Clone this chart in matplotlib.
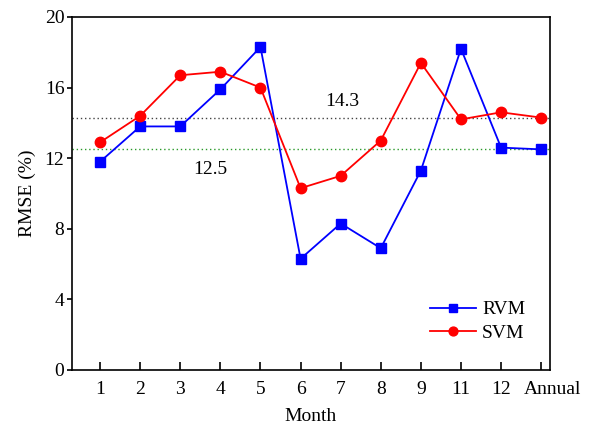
import matplotlib
matplotlib.use("Agg")
import matplotlib.pyplot as plt
import matplotlib.transforms as mtransforms
import numpy as np

plt.rcParams["font.family"] = ["Liberation Serif", "DejaVu Serif"]
plt.rcParams["mathtext.fontset"] = "stix"

months = ["1", "2", "3", "4", "5", "6", "7", "8", "9", "11", "12", "Annual"]
rvm = [11.8, 13.8, 13.8, 15.9, 18.3, 6.3, 8.3, 6.9, 11.3, 18.2, 12.6, 12.5]
svm = [12.9, 14.4, 16.7, 16.9, 16.0, 10.3, 11.0, 13.0, 17.4, 14.2, 14.6, 14.3]
svm_annual = 14.3
rvm_annual = 12.5

x = np.arange(len(months))

fig = plt.figure(figsize=(5.93, 4.33), dpi=100)
ax = fig.add_axes([72 / 593, 1 - 370 / 433, 478 / 593, 353 / 433])

ax.axhline(svm_annual, color="#444444", ls=(0, (1.0, 2.0)), lw=1.0, zorder=1)
ax.axhline(rvm_annual, color="#2a9a2a", ls=(0, (1.0, 2.0)), lw=1.0, zorder=1)

ax.plot(x, rvm, color="#0000ff", marker="s", ms=6.5, lw=1.3, label="RVM", zorder=3)
ax.plot(x, svm, color="#ff0000", marker="o", ms=7.5, lw=1.3, label="SVM", zorder=3)

ax.text(6.05, 15.2, f"{svm_annual}", fontsize=14, ha="center", va="center")
ax.text(2.75, 11.35, f"{rvm_annual}", fontsize=14, ha="center", va="center")

ax.set_xlim(-0.7, 11.22)
ax.set_ylim(0, 20)
ax.set_xticks(x)
ax.set_xticklabels(months)
ax.set_yticks([0, 4, 8, 12, 16, 20])
ax.tick_params(axis="x", direction="in", length=6, width=1.2, labelsize=14, pad=8)
ax.tick_params(axis="y", direction="out", length=3.5, width=1.2, labelsize=14, pad=2)
for s in ax.spines.values():
    s.set_linewidth(1.2)

# "Annual" sits a bit right of its tick in the original
lbl = ax.get_xticklabels()[-1]
lbl.set_transform(lbl.get_transform() +
                  mtransforms.ScaledTranslation(0.11, 0, fig.dpi_scale_trans))

ax.set_xlabel("Month", fontsize=14, labelpad=7)
ax.set_ylabel("RMSE (%)", fontsize=14, labelpad=6)

ax.legend(loc="lower right", frameon=False, fontsize=14, handlelength=2.4,
          bbox_to_anchor=(0.985, 0.03), labelspacing=0.3, handletextpad=0.3,
          markerscale=0.85)

fig.savefig("out.png", dpi=100)
